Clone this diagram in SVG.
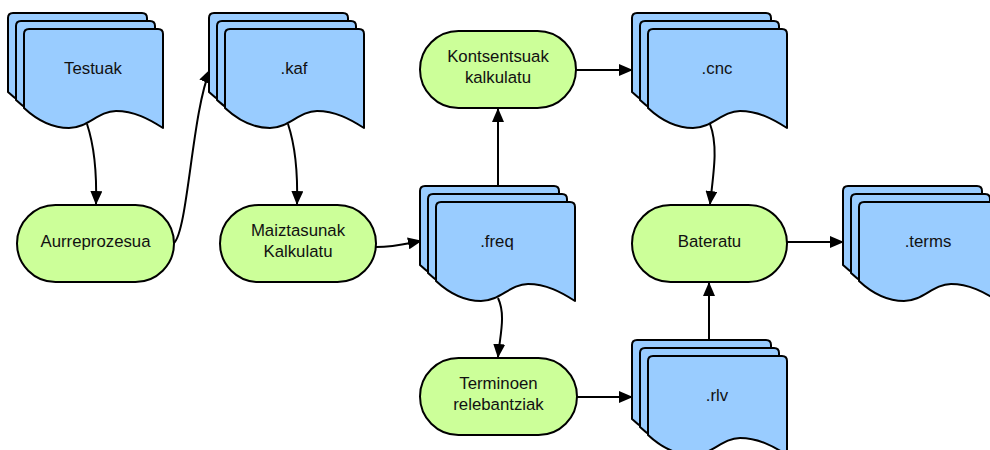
<svg xmlns="http://www.w3.org/2000/svg" xmlns:xlink="http://www.w3.org/1999/xlink" width="990" height="450" viewBox="0 0 990 450">
  <style>
    .doc { fill: #99ccff; stroke: #000; stroke-width: 2; stroke-linejoin: round; }
    .proc { fill: #ccff99; stroke: #000; stroke-width: 2; }
    .lbl { font-family: "Liberation Sans", Arial, sans-serif; font-size: 16.8px; fill: #111; text-anchor: middle; }
    .edge { fill: none; stroke: #000; stroke-width: 2; marker-end: url(#arrow); }
  </style>
  <defs>
    <!-- single document sheet with a wavy bottom edge -->
    <path id="sheet" d="M 0 79 L 0 5 Q 0 0 5 0 L 134 0 Q 139 0 139 5 L 139 99 C 125 90 110 82 92 82 C 74 82 64 99 45 99 C 28 99 14 92 0 79 Z"/>
    <!-- stack of three sheets; origin is the front sheet's top-left -->
    <g id="stack">
      <use xlink:href="#sheet" class="doc" x="-16" y="-16"/>
      <use xlink:href="#sheet" class="doc" x="-8" y="-8"/>
      <use xlink:href="#sheet" class="doc" x="0" y="0"/>
    </g>
    <marker id="arrow" viewBox="0 0 14 12" refX="13" refY="6" markerWidth="14" markerHeight="12" markerUnits="userSpaceOnUse" orient="auto">
      <path d="M 0 0 L 14 6 L 0 12 Z" fill="#000"/>
    </marker>
  </defs>

  <g id="connectors">
    <path class="edge" d="M 87 124 C 94 145 97 168 96 204"/>
    <path class="edge" d="M 174 243 C 188 230 192 112 210 70"/>
    <path class="edge" d="M 288 124 C 295 145 298 168 297 204"/>
    <path class="edge" d="M 376 247 C 395 247 405 244 421 241"/>
    <path class="edge" d="M 498 185 L 498 109"/>
    <path class="edge" d="M 576 70 L 632 70"/>
    <path class="edge" d="M 710 124 C 718 145 714 170 710 204"/>
    <path class="edge" d="M 787 242 L 843 242"/>
    <path class="edge" d="M 498 298 C 506 315 500 335 498 357"/>
    <path class="edge" d="M 577 397 L 632 397"/>
    <path class="edge" d="M 709 339 L 709 283"/>
  </g>

  <g id="testuak">
    <use xlink:href="#stack" x="24" y="29"/>
    <text class="lbl" x="93" y="74">Testuak</text>
  </g>
  <g id="kaf">
    <use xlink:href="#stack" x="225" y="29"/>
    <text class="lbl" x="294" y="74">.kaf</text>
  </g>
  <g id="freq">
    <use xlink:href="#stack" x="436" y="202"/>
    <text class="lbl" x="497" y="247">.freq</text>
  </g>
  <g id="cnc">
    <use xlink:href="#stack" x="648" y="29"/>
    <text class="lbl" x="717" y="74">.cnc</text>
  </g>
  <g id="terms">
    <use xlink:href="#stack" x="859" y="202"/>
    <text class="lbl" x="928" y="247">.terms</text>
  </g>
  <g id="rlv">
    <use xlink:href="#stack" x="648" y="356"/>
    <text class="lbl" x="717" y="401">.rlv</text>
  </g>

  <g id="aurreprozesua">
    <rect class="proc" x="17" y="205" width="157" height="77" rx="38.5"/>
    <text class="lbl" x="95.5" y="247">Aurreprozesua</text>
  </g>
  <g id="maiztasunak">
    <rect class="proc" x="220" y="205" width="156" height="77" rx="38.5"/>
    <text class="lbl" x="298" y="236">Maiztasunak</text>
    <text class="lbl" x="298" y="257">Kalkulatu</text>
  </g>
  <g id="kontsentsuak">
    <rect class="proc" x="420" y="31" width="156" height="77" rx="38.5"/>
    <text class="lbl" x="498" y="62">Kontsentsuak</text>
    <text class="lbl" x="498" y="83">kalkulatu</text>
  </g>
  <g id="bateratu">
    <rect class="proc" x="632" y="205" width="155" height="77" rx="38.5"/>
    <text class="lbl" x="709.5" y="247">Bateratu</text>
  </g>
  <g id="terminoen">
    <rect class="proc" x="420" y="358" width="157" height="77" rx="38.5"/>
    <text class="lbl" x="498.5" y="389">Terminoen</text>
    <text class="lbl" x="498.5" y="410">relebantziak</text>
  </g>
</svg>
